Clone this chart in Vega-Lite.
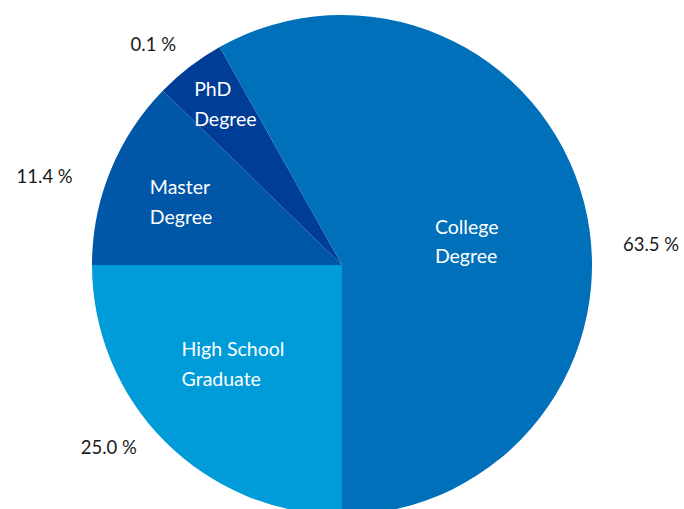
{
  "$schema": "https://vega.github.io/schema/vega-lite/v6.json",
  "autosize": "none",
  "width": 684,
  "height": 530,
  "padding": 0,
  "background": "white",
  "config": {"view": {"stroke": null}, "text": {"font": "Lato", "lineBreak": "\n", "baseline": "middle"}},
  "data": {"values": [
    {"category": "High School Graduate", "label": "High School\nGraduate", "pct": "25.0 %", "share": 90, "order": 1},
    {"category": "Master Degree", "label": "Master\nDegree", "pct": "11.4 %", "share": 44.2, "order": 2},
    {"category": "PhD Degree", "label": "PhD\nDegree", "pct": "0.1 %", "share": 16.5, "order": 3},
    {"category": "College Degree", "label": "College\nDegree", "pct": "63.5 %", "share": 209.3, "order": 4}
  ]},
  "encoding": {
    "theta": {"field": "share", "type": "quantitative", "stack": true, "scale": {"domain": [0, 360], "range": [3.14159265, 9.42477796]}},
    "order": {"field": "order", "type": "quantitative"},
    "detail": {"field": "category", "type": "nominal"}
  },
  "layer": [
    {"mark": {"type": "arc", "outerRadius": 250},
     "encoding": {"color": {"field": "category", "type": "nominal", "legend": null,
       "scale": {"domain": ["High School Graduate", "Master Degree", "PhD Degree", "College Degree"], "range": ["#009BD9", "#0056A7", "#003D96", "#0070BA"]}}}},
    {"mark": {"type": "text", "radius": 183, "dx": -31, "dy": -44, "align": "left", "fontSize": 19.5, "lineHeight": 29.5, "color": "white"},
     "encoding": {"text": {"condition": {"test": "datum.category === 'High School Graduate'", "field": "label"}, "value": ""}}},
    {"mark": {"type": "text", "radius": 202, "dx": -5, "dy": -1, "align": "left", "fontSize": 19.5, "lineHeight": 29.5, "color": "white"},
     "encoding": {"text": {"condition": {"test": "datum.category === 'Master Degree'", "field": "label"}, "value": ""}}},
    {"mark": {"type": "text", "radius": 218, "dx": -15, "dy": -2, "align": "left", "fontSize": 19.5, "lineHeight": 29.5, "color": "white"},
     "encoding": {"text": {"condition": {"test": "datum.category === 'PhD Degree'", "field": "label"}, "value": ""}}},
    {"mark": {"type": "text", "radius": 96, "dx": 0, "dy": -13, "align": "left", "fontSize": 19.5, "lineHeight": 29.5, "color": "white"},
     "encoding": {"text": {"condition": {"test": "datum.category === 'College Degree'", "field": "label"}, "value": ""}}},
    {"mark": {"type": "text", "radius": 293, "dx": -26, "dy": -24, "align": "center", "fontSize": 18.5, "color": "#1a1a1a"},
     "encoding": {"text": {"condition": {"test": "datum.category === 'High School Graduate'", "field": "pct"}, "value": ""}}},
    {"mark": {"type": "text", "radius": 308, "dx": -12, "dy": 28, "align": "center", "fontSize": 18.5, "color": "#1a1a1a"},
     "encoding": {"text": {"condition": {"test": "datum.category === 'Master Degree'", "field": "pct"}, "value": ""}}},
    {"mark": {"type": "text", "radius": 290, "dx": -12, "dy": 10, "align": "center", "fontSize": 18.5, "color": "#1a1a1a"},
     "encoding": {"text": {"condition": {"test": "datum.category === 'PhD Degree'", "field": "pct"}, "value": ""}}},
    {"mark": {"type": "text", "radius": 305, "dx": 14, "dy": 57, "align": "center", "fontSize": 18.5, "color": "#1a1a1a"},
     "encoding": {"text": {"condition": {"test": "datum.category === 'College Degree'", "field": "pct"}, "value": ""}}}
  ]
}
